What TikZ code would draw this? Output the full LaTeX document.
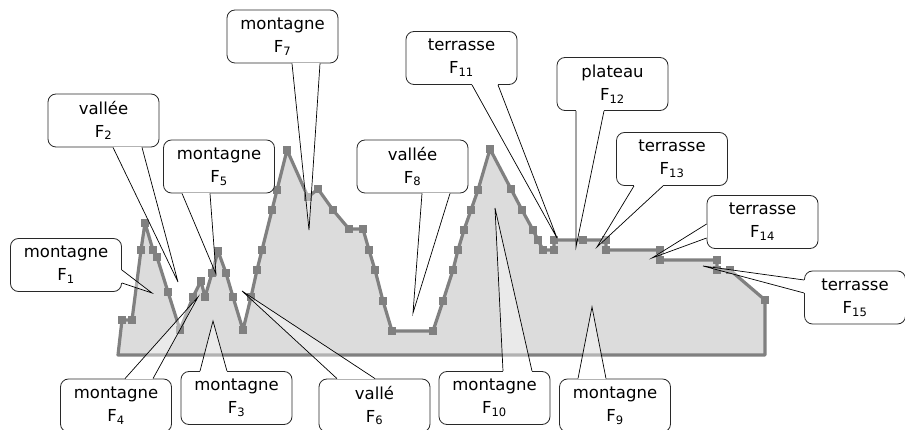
\documentclass[tikz,border=0pt]{standalone}
\usepackage{fontspec}
\setmainfont{DejaVu Sans}
\usetikzlibrary{calc}
\definecolor{ridgeline}{RGB}{128,128,128}
\definecolor{ridgefill}{RGB}{220,220,220}
\definecolor{bubbleline}{RGB}{40,40,40}

% tail of a speech bubble: base point, base point, tip
\newcommand{\bubbletail}[3]{%
  \draw[white, line width=1.6pt] #1 -- #2;
  \fill[white, fill opacity=0.4] #1 -- #3 -- #2 -- cycle;
  \draw[tailline] #1 -- #3 -- #2;}

\def\ridgepts{(122,320),(132,320),(141,250),(145,223),(153,250),(157,257),
  (168,292),(180,330),(193,297),(201,281),(205,297),(212,273),(218,251),
  (226,273),(233,297),(243,330),(251,297),(257,270),(262,250),(272,210),
  (277,190),(287,150),(308,197),(318,189),(333,210),(349,229),(363,229),
  (369,250),(375,270),(383,301),(392,331),(433,331),(443,301),(453,270),
  (458,250),(464,230),(471,210),(478,190),(490,149),(511,189),(522,210),
  (533,230),(538,240),(543,250),(554,250),(554,240),(583,240),(606,240),
  (606,250),(660,250),(660,260),(717,260),(717,270),(730,270),(765,300)}

\begin{document}
\begin{tikzpicture}[x=1pt, y=-1pt,
  ridge/.style={draw=ridgeline, fill=ridgefill, line width=3.2pt, line join=round},
  knot/.style={rectangle, fill=ridgeline, minimum size=8pt, inner sep=0pt},
  bubble/.style={draw=bubbleline, line width=0.8pt, fill=white, rounded corners=8pt,
    minimum width=111pt, minimum height=53pt, inner sep=0pt, align=center,
    font=\fontsize{16.5}{23}\selectfont},
  tailline/.style={black, line width=0.7pt, line join=miter}]

\useasboundingbox (0,0) rectangle (905,430);

% relief
\filldraw[ridge] (118,355) \foreach \p in \ridgepts { -- \p } -- (765,355) -- cycle;
\foreach \p [count=\i] in \ridgepts
  \node[knot] (k\i) at \p {};

% tips of the tails
\coordinate (t1) at (152,293);
\coordinate (t2) at (178,282);
\coordinate (t3) at (213,321);
\coordinate (t4) at (198,297);
\coordinate (t5) at (216,274);
\coordinate (t6) at (242,291);
\coordinate (t7) at (309,230);
\coordinate (t8) at (413,313);
\coordinate (t9) at (592,307);
\coordinate (t10) at (495,208);
\coordinate (t11) at (557,238);
\coordinate (t12) at (576,247);
\coordinate (t13) at (597,247);
\coordinate (t14) at (652,258);
\coordinate (t15) at (703,266);

% bubbles above
\node[bubble] (f1) at (66,265) {montagne\\F\textsubscript{1}};
\node[bubble] (f2) at (103.5,120.5) {vallée\\F\textsubscript{2}};
\node[bubble] (f5) at (219,166.5) {montagne\\F\textsubscript{5}};
\node[bubble] (f7) at (282.5,36.5) {montagne\\F\textsubscript{7}};
\node[bubble] (f8) at (412.5,166.5) {vallée\\F\textsubscript{8}};
\node[bubble] (f11) at (461.5,58) {terrasse\\F\textsubscript{11}};
\node[bubble] (f12) at (612.5,84) {plateau\\F\textsubscript{12}};
\node[bubble] (f13) at (672,159) {terrasse\\F\textsubscript{13}};
\node[bubble] (f14) at (762.5,222) {terrasse\\F\textsubscript{14}};
\node[bubble, minimum width=101pt] (f15) at (855,297.5) {terrasse\\F\textsubscript{15}};

% bubbles below
\node[bubble] (f4) at (116,405.5) {montagne\\F\textsubscript{4}};
\node[bubble] (f3) at (236.5,398) {montagne\\F\textsubscript{3}};
\node[bubble] (f6) at (374.5,405.5) {vallé\\F\textsubscript{6}};
\node[bubble] (f10) at (494.5,398) {montagne\\F\textsubscript{10}};
\node[bubble] (f9) at (615,405.5) {montagne\\F\textsubscript{9}};

% tails
\bubbletail{([yshift=-5pt]f1.east)}{([yshift=-18pt]f1.east)}{(t1)}
\bubbletail{([xshift=9.5pt]f2.south)}{([xshift=38.5pt]f2.south)}{(t2)}
\bubbletail{([xshift=-37pt]f5.south)}{([xshift=-9pt]f5.south)}{(t5)}
\bubbletail{([xshift=9.5pt]f7.south)}{([xshift=37.5pt]f7.south)}{(t7)}
\bubbletail{([xshift=9.5pt]f8.south)}{([xshift=37.5pt]f8.south)}{(t8)}
\bubbletail{([xshift=10.5pt]f11.south)}{([xshift=36.5pt]f11.south)}{(t11)}
\bubbletail{([xshift=-36.5pt]f12.south)}{([xshift=-8.5pt]f12.south)}{(t12)}
\bubbletail{([xshift=-38pt]f13.south)}{([xshift=-9pt]f13.south)}{(t13)}
\bubbletail{([yshift=-2pt]f14.west)}{([yshift=-16pt]f14.west)}{(t14)}
\bubbletail{([yshift=17.5pt]f15.west)}{([yshift=4.5pt]f15.west)}{(t15)}
\bubbletail{([xshift=9pt]f4.north)}{([xshift=37pt]f4.north)}{(t4)}
\bubbletail{([xshift=-36.5pt]f3.north)}{([xshift=-9.5pt]f3.north)}{(t3)}
\bubbletail{([xshift=-37.5pt]f6.north)}{([xshift=0.5pt]f6.north)}{(t6)}
\bubbletail{([xshift=8.5pt]f10.north)}{([xshift=37.5pt]f10.north)}{(t10)}
\bubbletail{([xshift=-37pt]f9.north)}{([xshift=-9pt]f9.north)}{(t9)}

\end{tikzpicture}
\end{document}
